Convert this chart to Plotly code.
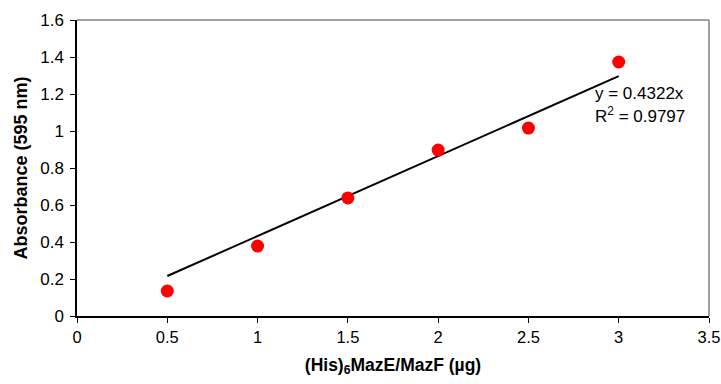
import plotly.graph_objects as go

x_vals = [0.5, 1.0, 1.5, 2.0, 2.5, 3.0]
y_vals = [0.135, 0.378, 0.638, 0.897, 1.016, 1.373]
slope = 0.4322
eq_text = "y = 0.4322x"
r2_text = "R<sup>2</sup> = 0.9797"
x_ticks = [0, 0.5, 1, 1.5, 2, 2.5, 3, 3.5]
x_tick_labels = ["0", "0.5", "1", "1.5", "2", "2.5", "3", "3.5"]
y_ticks = [0, 0.2, 0.4, 0.6, 0.8, 1.0, 1.2, 1.4, 1.6]
y_tick_labels = ["0", "0.2", "0.4", "0.6", "0.8", "1", "1.2", "1.4", "1.6"]

fit_x = [x_vals[0], x_vals[-1]]
fit_y = [slope * v for v in fit_x]

font = "Liberation Sans, Arial, sans-serif"

fig = go.Figure()
fig.add_trace(go.Scatter(x=fit_x, y=fit_y, mode="lines",
                         line=dict(color="black", width=2), showlegend=False))
fig.add_trace(go.Scatter(x=x_vals, y=y_vals, mode="markers",
                         marker=dict(color="#ff0000", size=13, line=dict(width=0)),
                         showlegend=False))

fig.add_annotation(x=2.86, y=1.205, xref="x", yref="y", text=eq_text, showarrow=False,
                   xanchor="left", yanchor="middle", font=dict(family=font, size=17, color="black"))
fig.add_annotation(x=2.86, y=1.085, xref="x", yref="y", text=r2_text, showarrow=False,
                   xanchor="left", yanchor="middle", font=dict(family=font, size=17, color="black"))

# top and right gray border
fig.add_shape(type="line", xref="paper", yref="paper", x0=0, x1=1, y0=1, y1=1,
              line=dict(color="#808080", width=1.5))
fig.add_shape(type="line", xref="paper", yref="paper", x0=1, x1=1, y0=0, y1=1,
              line=dict(color="#808080", width=1.5))

fig.update_layout(
    width=721, height=384,
    margin=dict(l=77, r=12, t=20, b=68, autoexpand=False),
    plot_bgcolor="white", paper_bgcolor="white",
    font=dict(family=font, size=17, color="black"),
    xaxis=dict(range=[0, 3.5], tickvals=x_ticks, ticktext=x_tick_labels,
               showgrid=False, zeroline=False, showline=True, linecolor="black", linewidth=1.5,
               ticks="outside", ticklen=5, tickcolor="black", tickfont=dict(size=16.5),
               automargin=False,
               title=dict(text="<b>(His)<sub>6</sub>MazE/MazF (µg)</b>", font=dict(size=17.5), standoff=14)),
    yaxis=dict(range=[0, 1.6], tickvals=y_ticks, ticktext=y_tick_labels,
               showgrid=False, zeroline=False, showline=True, linecolor="black", linewidth=1.5,
               ticks="outside", ticklen=5, tickcolor="black", tickfont=dict(size=17),
               ticklabelstandoff=3, automargin=False,
               title=dict(text="<b>Absorbance (595 nm)</b>", font=dict(size=18), standoff=8)),
)

fig.write_html("out.html")
